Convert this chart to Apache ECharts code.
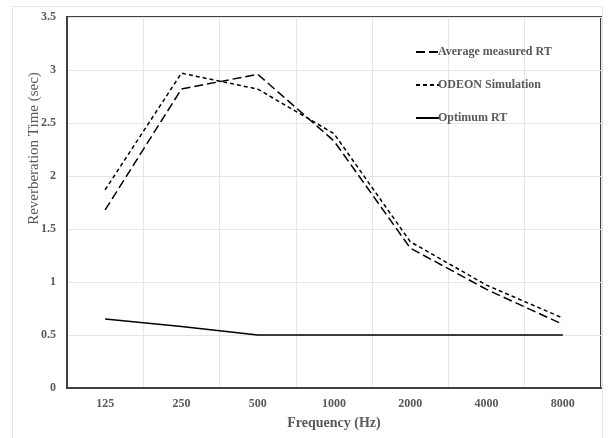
<!DOCTYPE html>
<html style="height: 100%">
<head>
  <meta charset="utf-8">
  <title>Reverberation Time</title>
  <style type="text/css">
    body { margin: 0; background: #fff; }
    #frame {
      position: absolute; left: 12px; top: 6px; width: 591px; height: 440px;
      border: 1px solid #e6e6e6; box-sizing: border-box;
    }
    #container { position: absolute; left: 0; top: 0; width: 608px; height: 438px; }
  </style>
</head>
<body>
  <div id="frame"></div>
  <div id="container"></div>

  <script type="text/javascript" src="https://cdn.jsdelivr.net/npm/echarts@6/dist/echarts.min.js"></script>
  <script type="text/javascript">
    var frequencies = ['125', '250', '500', '1000', '2000', '4000', '8000'];
    var averageMeasured = [1.68, 2.82, 2.96, 2.33, 1.32, 0.93, 0.60];
    var odeonSimulation = [1.87, 2.97, 2.82, 2.40, 1.38, 0.97, 0.66];
    var optimumRT = [0.65, 0.58, 0.50, 0.50, 0.50, 0.50, 0.50];

    var serif = 'Liberation Serif';
    var grey = '#595959';

    var chart = echarts.init(document.getElementById('container'));

    function lineSeries(name, data, dash) {
      return {
        name: name,
        type: 'line',
        data: data,
        symbol: 'none',
        silent: true,
        animation: false,
        itemStyle: { color: '#000' },
        lineStyle: { color: '#000', width: 1.5, type: dash }
      };
    }

    chart.setOption({
      animation: false,
      grid: {
        left: 67, right: 7, top: 17, bottom: 50,
        show: true, borderColor: '#404040', borderWidth: 2
      },
      legend: {
        orient: 'vertical',
        left: 410, top: 41,
        itemWidth: 23, itemHeight: 14, itemGap: 21,
        itemStyle: { opacity: 0 },
        textStyle: { fontFamily: serif, fontWeight: 'bold', fontSize: 12, color: grey, padding: [0, 0, 0, -6] },
        data: ['Average measured RT', 'ODEON Simulation', 'Optimum RT']
      },
      xAxis: {
        type: 'category',
        data: frequencies,
        name: 'Frequency (Hz)',
        nameLocation: 'middle',
        nameGap: 28,
        nameMoveOverlap: false,
        nameTextStyle: { fontFamily: serif, fontWeight: 'bold', fontSize: 14, color: grey },
        axisLine: { lineStyle: { color: '#404040', width: 2 } },
        axisTick: { show: false },
        axisLabel: { fontFamily: serif, fontWeight: 'bold', fontSize: 12, color: grey, margin: 10 },
        splitLine: { show: true, lineStyle: { color: '#e6e6e6', width: 1 } }
      },
      yAxis: {
        type: 'value',
        min: 0, max: 3.5, interval: 0.5,
        name: 'Reverberation Time (sec)',
        nameLocation: 'middle',
        nameGap: 25,
        nameMoveOverlap: false,
        nameTextStyle: { fontFamily: serif, fontSize: 15, color: grey, padding: [0, 0, 0, 108] },
        axisLine: { show: true, lineStyle: { color: '#404040', width: 2 } },
        axisTick: { show: false },
        axisLabel: { fontFamily: serif, fontWeight: 'bold', fontSize: 12, color: grey, margin: 11 },
        splitLine: { lineStyle: { color: '#e6e6e6', width: 1 } }
      },
      series: [
        lineSeries('Average measured RT', averageMeasured, [9, 4]),
        lineSeries('ODEON Simulation', odeonSimulation, [4, 3]),
        lineSeries('Optimum RT', optimumRT, 'solid')
      ]
    });
  </script>
</body>
</html>
